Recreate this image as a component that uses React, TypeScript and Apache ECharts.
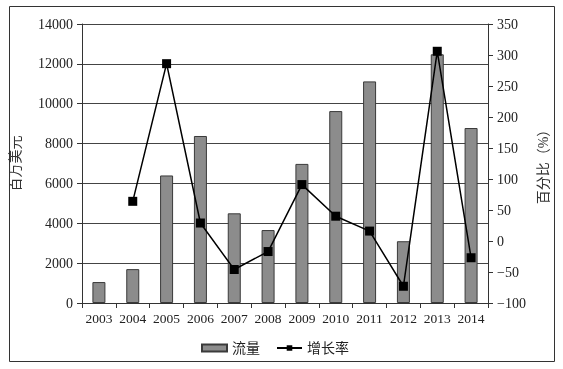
import React, { useEffect, useRef } from "react";
import * as echarts from "echarts";

const years = ["2003", "2004", "2005", "2006", "2007", "2008", "2009", "2010", "2011", "2012", "2013", "2014"];
const flowValues = [1050, 1700, 6400, 8380, 4500, 3660, 6980, 9630, 11120, 3100, 12480, 8780];
const growthValues: (number | null)[] = [null, 64, 286, 29, -46, -17, 91, 40, 16, -73, 306, -27];
const leftTicks = { min: 0, max: 14000, interval: 2000 };
const rightTicks = { min: -100, max: 350, interval: 50 };

const FONT = "'Liberation Serif', 'Noto Sans CJK SC', serif";

export default function App() {
  const ref = useRef<HTMLDivElement>(null);
  useEffect(() => {
    if (!ref.current) return;
    const chart = echarts.init(ref.current, undefined, { renderer: "svg" });
    chart.setOption({
      animation: false,
      textStyle: { fontFamily: FONT },
      grid: { left: 82, right: 75, top: 24, bottom: 66, containLabel: false },
      graphic: [
        {
          type: "rect",
          shape: { x: 9.5, y: 6.5, width: 545, height: 355 },
          style: { fill: "none", stroke: "#333", lineWidth: 1 },
          silent: true,
        },
      ],
      legend: {
        bottom: 9,
        left: 196,
        itemGap: 16,
        itemWidth: 25,
        itemHeight: 7,
        textStyle: { fontFamily: FONT, fontSize: 14, color: "#222" },
        data: [
          { name: "流量", icon: "rect" },
          { name: "增长率" },
        ],
      },
      xAxis: {
        type: "category",
        data: years,
        axisLine: { lineStyle: { color: "#333", width: 1 } },
        axisTick: { show: true, alignWithLabel: false, length: 5, lineStyle: { color: "#333" } },
        axisLabel: { color: "#222", fontSize: 13.5, fontFamily: FONT, margin: 9, interval: 0 },
        splitLine: { show: false },
      },
      yAxis: [
        {
          type: "value",
          ...leftTicks,
          name: "百万美元",
          nameLocation: "middle",
          nameGap: 60,
          nameTextStyle: { fontSize: 14, color: "#333", fontFamily: FONT },
          axisLine: { show: true, lineStyle: { color: "#333" } },
          axisTick: { show: true, length: 5, lineStyle: { color: "#333" } },
          axisLabel: {
            color: "#222",
            fontSize: 14,
            fontFamily: FONT,
            margin: 9,
            formatter: (v: number) => String(v),
          },
          splitLine: { show: true, lineStyle: { color: "#444", width: 1 } },
        },
        {
          type: "value",
          ...rightTicks,
          name: "百分比（%）",
          nameLocation: "middle",
          nameRotate: 90,
          nameGap: 47,
          nameTextStyle: { fontSize: 14, color: "#333", fontFamily: FONT },
          axisLine: { show: true, lineStyle: { color: "#333" } },
          axisTick: { show: true, length: 5, lineStyle: { color: "#333" } },
          axisLabel: {
            color: "#222",
            fontSize: 14,
            fontFamily: FONT,
            margin: 9,
            formatter: (v: number) => (v < 0 ? "\u2212" + Math.abs(v) : String(v)),
          },
          splitLine: { show: false },
        },
      ],
      series: [
        {
          name: "流量",
          type: "bar",
          yAxisIndex: 0,
          data: flowValues,
          barWidth: 13,
          itemStyle: { color: "#8c8c8c", borderColor: "#3a3a3a", borderWidth: 1 },
        },
        {
          name: "增长率",
          type: "line",
          yAxisIndex: 1,
          data: growthValues,
          connectNulls: false,
          symbol: "rect",
          symbolSize: 9,
          lineStyle: { color: "#000", width: 1.5 },
          itemStyle: { color: "#000" },
        },
      ],
    });
    return () => chart.dispose();
  }, []);
  return <div ref={ref} style={{ position: "fixed", left: 0, top: 0, width: 563, height: 369 }} />;
}
